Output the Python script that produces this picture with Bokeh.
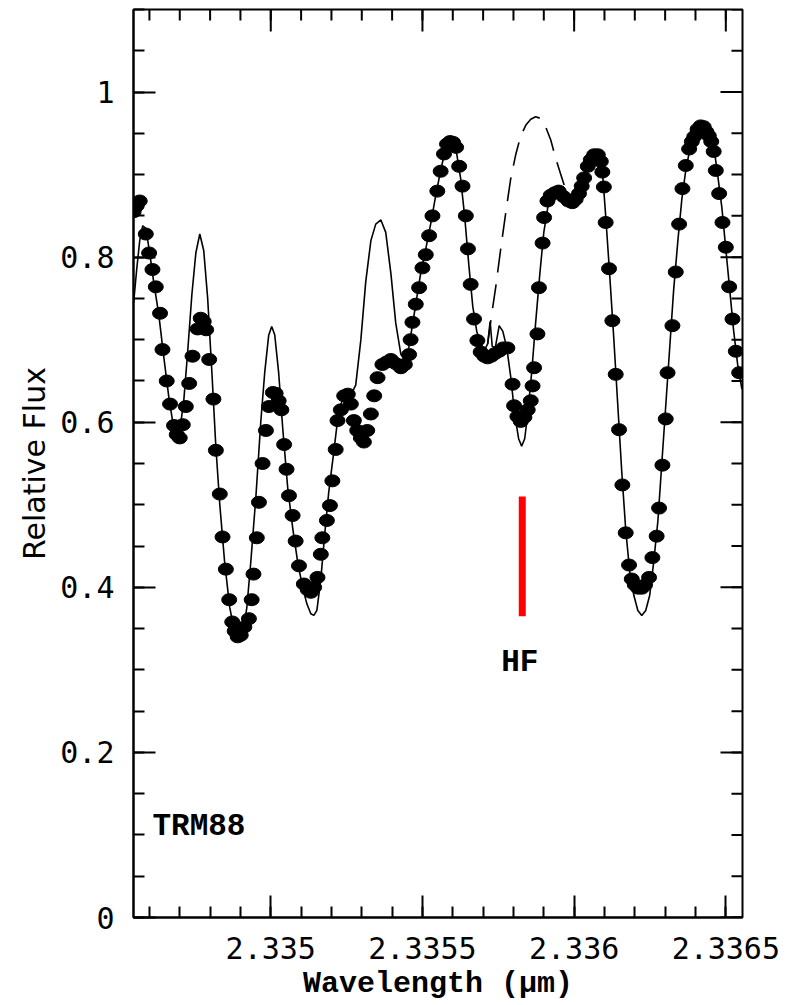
import math
from bokeh.plotting import figure
from bokeh.models import Range1d, FixedTicker, CustomJSTickFormatter
from bokeh.core.properties import value
from bokeh.embed import file_html
from bokeh.resources import INLINE

# ---- observed spectrum (filled dots) ----
obs_wavelength = [
    2.334548, 2.334558, 2.334568, 2.334588, 2.334599, 2.334610, 2.334621, 2.334635,
    2.334643, 2.334657, 2.334668, 2.334681, 2.334690, 2.334700, 2.334710, 2.334720,
    2.334731, 2.334742, 2.334759, 2.334769, 2.334779, 2.334787, 2.334797, 2.334811,
    2.334819, 2.334832, 2.334841, 2.334852, 2.334863, 2.334873, 2.334881, 2.334891,
    2.334901, 2.334913, 2.334928, 2.334937, 2.334943, 2.334954, 2.334961, 2.334973,
    2.334984, 2.334994, 2.335007, 2.335016, 2.335026, 2.335035, 2.335044, 2.335052,
    2.335060, 2.335072, 2.335082, 2.335093, 2.335109, 2.335122, 2.335132, 2.335143,
    2.335154, 2.335165, 2.335170, 2.335185, 2.335195, 2.335203, 2.335214, 2.335220,
    2.335231, 2.335242, 2.335254, 2.335264, 2.335274, 2.335285, 2.335297, 2.335307,
    2.335318, 2.335330, 2.335341, 2.335352, 2.335368, 2.335382, 2.335396, 2.335412,
    2.335429, 2.335442, 2.335456, 2.335461, 2.335467, 2.335478, 2.335489, 2.335500,
    2.335511, 2.335522, 2.335533, 2.335549, 2.335560, 2.335571, 2.335581, 2.335591,
    2.335601, 2.335611, 2.335621, 2.335632, 2.335643, 2.335650, 2.335659, 2.335670,
    2.335681, 2.335692, 2.335704, 2.335715, 2.335727, 2.335738, 2.335753, 2.335766,
    2.335780, 2.335797, 2.335802, 2.335813, 2.335824, 2.335836, 2.335847, 2.335857,
    2.335863, 2.335868, 2.335879, 2.335884, 2.335896, 2.335901, 2.335912, 2.335923,
    2.335936, 2.335949, 2.335966, 2.335981, 2.335994, 2.336005, 2.336016, 2.336025,
    2.336033, 2.336045, 2.336055, 2.336066, 2.336078, 2.336088, 2.336093, 2.336098,
    2.336104, 2.336115, 2.336126, 2.336137, 2.336148, 2.336159, 2.336170, 2.336181,
    2.336190, 2.336200, 2.336211, 2.336223, 2.336234, 2.336247, 2.336258, 2.336272,
    2.336280, 2.336291, 2.336302, 2.336308, 2.336324, 2.336335, 2.336346, 2.336357,
    2.336368, 2.336379, 2.336388, 2.336396, 2.336407, 2.336417, 2.336427, 2.336436,
    2.336444, 2.336452, 2.336460, 2.336467, 2.336478, 2.336489, 2.336500, 2.336511,
    2.336522, 2.336533, 2.336544,
]
obs_flux = [
    0.855, 0.862, 0.868, 0.828, 0.805, 0.785, 0.764, 0.732,
    0.688, 0.650, 0.622, 0.596, 0.585, 0.581, 0.597, 0.619,
    0.647, 0.680, 0.713, 0.726, 0.722, 0.712, 0.676, 0.628,
    0.566, 0.513, 0.461, 0.422, 0.385, 0.358, 0.347, 0.340,
    0.342, 0.352, 0.362, 0.385, 0.416, 0.460, 0.503, 0.550,
    0.590, 0.619, 0.636, 0.635, 0.626, 0.615, 0.573, 0.543,
    0.511, 0.487, 0.456, 0.426, 0.404, 0.397, 0.394, 0.400,
    0.412, 0.440, 0.460, 0.481, 0.499, 0.529, 0.567, 0.602,
    0.615, 0.632, 0.634, 0.622, 0.602, 0.590, 0.581, 0.576,
    0.590, 0.610, 0.632, 0.654, 0.670, 0.673, 0.676, 0.671,
    0.666, 0.670, 0.682, 0.700, 0.721, 0.743, 0.763, 0.787,
    0.803, 0.826, 0.850, 0.880, 0.904, 0.925, 0.937, 0.940,
    0.939, 0.933, 0.910, 0.886, 0.850, 0.810, 0.767, 0.725,
    0.699, 0.685, 0.680, 0.678, 0.680, 0.683, 0.686, 0.690,
    0.690, 0.646, 0.620, 0.607, 0.601, 0.606, 0.615, 0.626,
    0.644, 0.666, 0.707, 0.763, 0.817, 0.848, 0.868, 0.875,
    0.878, 0.880, 0.873, 0.868, 0.866, 0.870, 0.877, 0.886,
    0.896, 0.910, 0.918, 0.924, 0.924, 0.916, 0.903, 0.885,
    0.842, 0.786, 0.723, 0.658, 0.591, 0.524, 0.466, 0.427,
    0.410, 0.403, 0.399, 0.399, 0.403, 0.412, 0.436, 0.462,
    0.496, 0.548, 0.604, 0.660, 0.717, 0.782, 0.840, 0.883,
    0.911, 0.931, 0.940, 0.946, 0.955, 0.959, 0.958, 0.952,
    0.947, 0.940, 0.928, 0.905, 0.877, 0.842, 0.812, 0.764,
    0.725, 0.686, 0.660,
]

# ---- synthetic spectrum with HF (solid line) ----
model_wavelength = [
    2.334548, 2.334558, 2.334568, 2.334578, 2.334588, 2.334601, 2.334614, 2.334631,
    2.334647, 2.334664, 2.334677, 2.334690, 2.334700, 2.334713, 2.334726, 2.334740,
    2.334753, 2.334766, 2.334779, 2.334792, 2.334806, 2.334819, 2.334832, 2.334848,
    2.334865, 2.334881, 2.334895, 2.334908, 2.334921, 2.334934, 2.334951, 2.334967,
    2.334980, 2.334993, 2.335003, 2.335013, 2.335026, 2.335040, 2.335056, 2.335073,
    2.335089, 2.335105, 2.335119, 2.335132, 2.335142, 2.335152, 2.335165, 2.335178,
    2.335191, 2.335208, 2.335221, 2.335234, 2.335247, 2.335264, 2.335280, 2.335297,
    2.335313, 2.335330, 2.335346, 2.335363, 2.335379, 2.335396, 2.335412, 2.335429,
    2.335442, 2.335455, 2.335468, 2.335481, 2.335494, 2.335511, 2.335527, 2.335544,
    2.335560, 2.335574, 2.335587, 2.335600, 2.335613, 2.335626, 2.335639, 2.335653,
    2.335666, 2.335679, 2.335692, 2.335705, 2.335715, 2.335723, 2.335730, 2.335740,
    2.335753, 2.335765, 2.335778, 2.335791, 2.335804, 2.335817, 2.335827, 2.335837,
    2.335847, 2.335860, 2.335873, 2.335887, 2.335900, 2.335913, 2.335926, 2.335939,
    2.335956, 2.335972, 2.335989, 2.336005, 2.336022, 2.336038, 2.336055, 2.336071,
    2.336084, 2.336094, 2.336104, 2.336117, 2.336131, 2.336144, 2.336157, 2.336170,
    2.336183, 2.336197, 2.336210, 2.336223, 2.336236, 2.336249, 2.336262, 2.336276,
    2.336289, 2.336302, 2.336315, 2.336328, 2.336342, 2.336355, 2.336368, 2.336381,
    2.336398, 2.336414, 2.336431, 2.336447, 2.336460, 2.336473, 2.336487, 2.336500,
    2.336513, 2.336526, 2.336539, 2.336553,
]
model_flux = [
    0.745, 0.785, 0.820, 0.838, 0.835, 0.805, 0.770, 0.730,
    0.680, 0.630, 0.600, 0.585, 0.590, 0.625, 0.685, 0.755,
    0.805, 0.828, 0.808, 0.750, 0.660, 0.570, 0.500, 0.430,
    0.375, 0.345, 0.337, 0.345, 0.375, 0.430, 0.510, 0.600,
    0.660, 0.705, 0.716, 0.706, 0.660, 0.590, 0.520, 0.470,
    0.430, 0.400, 0.380, 0.368, 0.366, 0.372, 0.410, 0.465,
    0.515, 0.565, 0.605, 0.625, 0.633, 0.633, 0.645, 0.700,
    0.770, 0.820, 0.840, 0.845, 0.830, 0.780, 0.720, 0.682,
    0.676, 0.690, 0.720, 0.750, 0.780, 0.810, 0.840, 0.875,
    0.905, 0.928, 0.940, 0.938, 0.925, 0.895, 0.850, 0.790,
    0.740, 0.710, 0.695, 0.688, 0.695, 0.722, 0.692, 0.690,
    0.717, 0.710, 0.690, 0.655, 0.610, 0.580, 0.571, 0.580,
    0.610, 0.660, 0.720, 0.780, 0.830, 0.860, 0.875, 0.880,
    0.885, 0.880, 0.875, 0.880, 0.890, 0.905, 0.918, 0.925,
    0.920, 0.900, 0.850, 0.780, 0.700, 0.620, 0.540, 0.470,
    0.420, 0.390, 0.372, 0.366, 0.372, 0.390, 0.430, 0.480,
    0.550, 0.620, 0.690, 0.760, 0.820, 0.870, 0.905, 0.930,
    0.950, 0.962, 0.963, 0.955, 0.935, 0.900, 0.860, 0.810,
    0.760, 0.710, 0.670, 0.640,
]

# ---- synthetic spectrum without HF (dashed line) ----
nohf_wavelength = [
    2.335715, 2.335728, 2.335742, 2.335758, 2.335775, 2.335791, 2.335808, 2.335824,
    2.335841, 2.335857, 2.335873, 2.335890, 2.335906, 2.335923, 2.335939, 2.335956,
    2.335969,
]
nohf_flux = [
    0.695, 0.730, 0.765, 0.810, 0.855, 0.895, 0.925, 0.947,
    0.960, 0.967, 0.970, 0.968, 0.958, 0.942, 0.920, 0.900,
    0.885,
]

# ---- HF line marker and labels ----
hf_wavelength = [2.335829]
hf_bar_bottom = [0.365]
hf_bar_top = [0.51]
hf_label = ["HF"]
hf_label_x = [2.335821]
hf_label_y = [0.309]
star_label = ["TRM88"]
star_label_x = [2.334610]
star_label_y = [0.110]

# ---- axes ----
x_range = (2.3345475, 2.336555)
y_range = (0.0, 1.1)
x_major = [2.335, 2.3355, 2.336, 2.3365]
x_tick_labels = ["2.335", "2.3355", "2.336", "2.3365"]
x_minor = [round(2.3346 + 0.0001 * i, 4) for i in range(20)]
y_major = [0.0, 0.2, 0.4, 0.6, 0.8, 1.0]
y_tick_labels = ["0", "0.2", "0.4", "0.6", "0.8", "1"]
y_minor = [round(0.05 * i, 2) for i in range(23)]

p = figure(
    width=780, height=1003,
    min_border_left=133, min_border_right=38, min_border_top=9, min_border_bottom=86,
    x_range=Range1d(*x_range), y_range=Range1d(*y_range),
    output_backend="svg", toolbar_location=None,
)
p.xgrid.grid_line_color = None
p.ygrid.grid_line_color = None
p.outline_line_color = "black"
p.outline_line_width = 2
p.outline_line_alpha = 1.0
p.background_fill_color = "white"
p.border_fill_color = "white"

code = """
for (let i = 0; i < tv.length; i++) {
  if (Math.abs(tv[i] - tick) < 1e-9) return tl[i];
}
return "";
"""
xfmt = CustomJSTickFormatter(args=dict(tv=x_major, tl=x_tick_labels), code=code)
yfmt = CustomJSTickFormatter(args=dict(tv=y_major, tl=y_tick_labels), code=code)

xaxis = p.xaxis[0]
yaxis = p.yaxis[0]
xaxis.ticker = FixedTicker(ticks=x_major, minor_ticks=x_minor)
yaxis.ticker = FixedTicker(ticks=y_major, minor_ticks=y_minor)
xaxis.formatter = xfmt
yaxis.formatter = yfmt
for ax in (xaxis, yaxis):
    ax.axis_line_color = "black"
    ax.axis_line_width = 2
    ax.major_tick_line_color = "black"
    ax.major_tick_line_width = 2
    ax.minor_tick_line_color = "black"
    ax.minor_tick_line_width = 2
    ax.major_tick_in = 22
    ax.major_tick_out = 0
    ax.minor_tick_in = 11
    ax.minor_tick_out = 0
    ax.major_label_text_font = "DejaVu Sans Mono"
    ax.major_label_text_font_size = "30px"
    ax.major_label_text_color = "black"
xaxis.major_label_standoff = 19
yaxis.major_label_standoff = 19

xaxis.axis_label = "Wavelength (\u03bcm)"
xaxis.axis_label_text_font = "Liberation Mono"
xaxis.axis_label_text_font_style = "bold"
xaxis.axis_label_text_font_size = "30px"
xaxis.axis_label_text_color = "black"
xaxis.axis_label_standoff = 5

yaxis.axis_label = "Relative Flux"
yaxis.axis_label_text_font = "DejaVu Sans"
yaxis.axis_label_text_font_style = "normal"
yaxis.axis_label_text_font_size = "30px"
yaxis.axis_label_text_color = "black"
yaxis.axis_label_standoff = 5

# mirrored inward ticks on the top and right frame edges
top_major_y = [y_range[1]] * len(x_major)
top_minor_y = [y_range[1]] * len(x_minor)
right_major_x = [x_range[1]] * len(y_major)
right_minor_x = [x_range[1]] * len(y_minor)
p.ray(x=x_major, y=top_major_y, length=22, length_units="screen",
      angle=-math.pi / 2, line_color="black", line_width=2)
p.ray(x=x_minor, y=top_minor_y, length=11, length_units="screen",
      angle=-math.pi / 2, line_color="black", line_width=2)
p.ray(x=right_major_x, y=y_major, length=22, length_units="screen",
      angle=math.pi, line_color="black", line_width=2)
p.ray(x=right_minor_x, y=y_minor, length=11, length_units="screen",
      angle=math.pi, line_color="black", line_width=2)

# model lines
p.line(model_wavelength, model_flux, line_color="black", line_width=1.6)
p.line(nohf_wavelength, nohf_flux, line_color="black", line_width=1.6, line_dash="24 12")

# observed dots
p.ellipse(obs_wavelength, obs_flux, width=15, height=12,
          width_units="screen", height_units="screen",
          fill_color="black", line_color="black")

# HF marker
p.segment(x0=hf_wavelength, y0=hf_bar_bottom, x1=hf_wavelength, y1=hf_bar_top,
          line_color="#ff0000", line_width=7)

p.text(x=hf_label_x, y=hf_label_y, text=hf_label,
       text_font=value("Liberation Mono"), text_font_style="bold",
       text_font_size="31px", text_align="center", text_baseline="alphabetic",
       text_color="black")
p.text(x=star_label_x, y=star_label_y, text=star_label,
       text_font=value("Liberation Mono"), text_font_style="bold",
       text_font_size="31px", text_align="left", text_baseline="alphabetic",
       text_color="black")

open("out.html", "w").write(file_html(p, INLINE))
